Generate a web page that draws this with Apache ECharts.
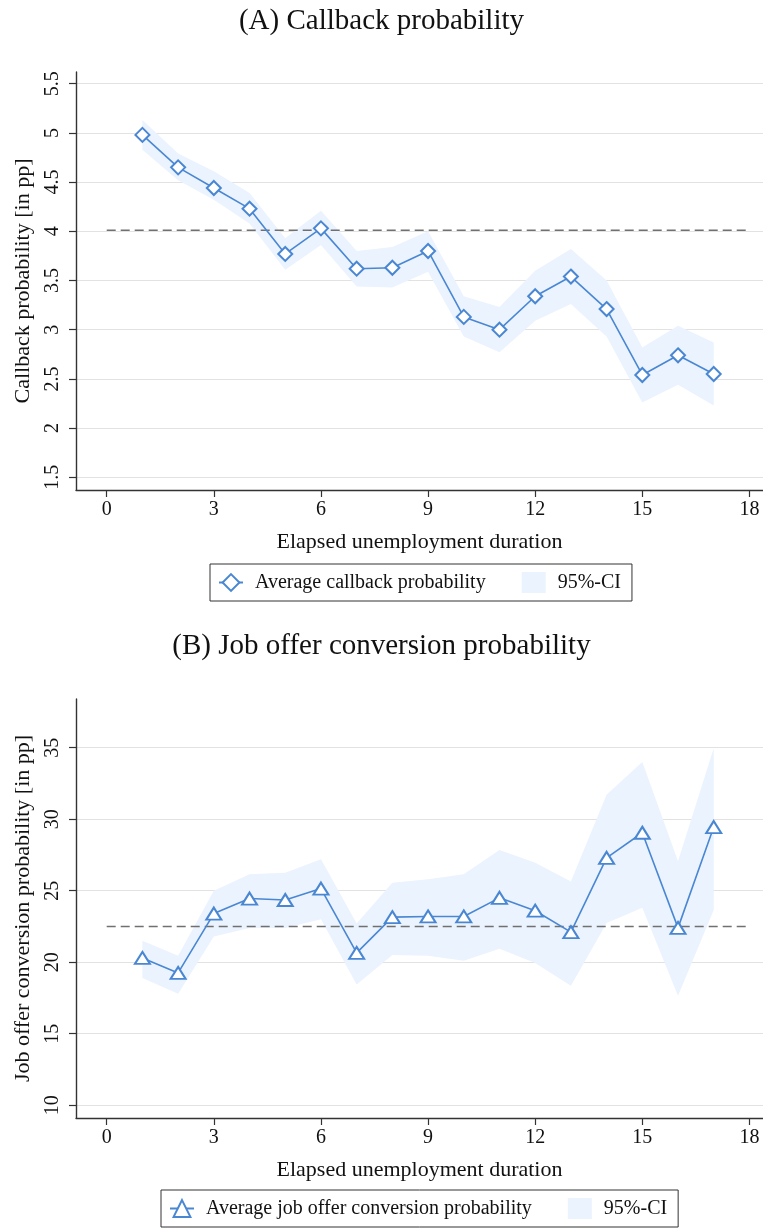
<!DOCTYPE html>
<html>
<head>
<meta charset="utf-8">
<script src="https://cdn.jsdelivr.net/npm/echarts@6/dist/echarts.min.js"></script>
<style>
  html, body { margin: 0; padding: 0; background: #ffffff; }
  #chart { width: 763px; height: 1230px; }
</style>
</head>
<body>
<div id="chart"></div>
<script>
// Months of elapsed unemployment
const months = [1, 2, 3, 4, 5, 6, 7, 8, 9, 10, 11, 12, 13, 14, 15, 16, 17];

// Panel A: callback probability (pp) with 95% confidence bounds
const callbackMean = [4.98, 4.65, 4.44, 4.23, 3.77, 4.03, 3.62, 3.63, 3.80, 3.13, 3.00, 3.34, 3.54, 3.21, 2.54, 2.74, 2.55];
const callbackLow  = [4.83, 4.52, 4.32, 4.08, 3.61, 3.86, 3.44, 3.43, 3.59, 2.93, 2.77, 3.09, 3.26, 2.93, 2.26, 2.44, 2.23];
const callbackHigh = [5.13, 4.79, 4.61, 4.39, 3.93, 4.21, 3.80, 3.84, 4.00, 3.34, 3.23, 3.60, 3.82, 3.50, 2.82, 3.04, 2.87];
const callbackOverall = 4.01;

// Panel B: job offer conversion probability (pp) with 95% confidence bounds
const offerMean = [20.3, 19.25, 23.4, 24.45, 24.35, 25.15, 20.65, 23.15, 23.2, 23.2, 24.5, 23.6, 22.1, 27.3, 29.05, 22.4, 29.45];
const offerLow  = [18.9, 17.8, 21.8, 22.4, 22.4, 23.0, 18.45, 20.5, 20.45, 20.1, 20.95, 19.95, 18.35, 22.75, 23.8, 17.65, 23.65];
const offerHigh = [21.5, 20.45, 25.0, 26.15, 26.25, 27.2, 22.7, 25.55, 25.8, 26.15, 27.85, 26.95, 25.65, 31.7, 34.0, 27.05, 34.95];
const offerOverall = 22.5;

// Tick positions
const xTicks = [0, 3, 6, 9, 12, 15, 18];
const yTicksA = [1.5, 2, 2.5, 3, 3.5, 4, 4.5, 5, 5.5];
const yTicksB = [10, 15, 20, 25, 30, 35];

// Text
const titleA = '(A) Callback probability';
const titleB = '(B) Job offer conversion probability';
const xName = 'Elapsed unemployment duration';
const yNameA = 'Callback probability [in pp]';
const yNameB = 'Job offer conversion probability [in pp]';
const seriesNameA = 'Average callback probability';
const seriesNameB = 'Average job offer conversion probability';
const ciName = '95%-CI';

// Styling
const blue = '#4a87d3';
const bandFill = '#ebf3fe';
const ink = '#333333';
const textInk = '#111111';
const gridInk = '#e2e2e2';
const serif = '"Liberation Serif", "Times New Roman", serif';

const pairs = (xs, ys) => xs.map((x, i) => [x, ys[i]]);

function makeXAxis(gridIndex) {
  return {
    type: 'value', gridIndex: gridIndex, min: -0.86, max: 18.38,
    axisLine: { show: true, onZero: false, lineStyle: { color: ink, width: 1.4 } },
    axisTick: { show: true, length: 7, customValues: xTicks, lineStyle: { color: ink, width: 1.2 } },
    axisLabel: { customValues: xTicks, margin: 10, fontFamily: serif, fontSize: 20, color: textInk },
    splitLine: { show: false },
    name: xName, nameLocation: 'middle', nameGap: 41,
    nameTextStyle: { fontFamily: serif, fontSize: 22, color: textInk }
  };
}

function makeYAxis(gridIndex, min, max, ticks, name) {
  return {
    type: 'value', gridIndex: gridIndex, min: min, max: max,
    axisLine: { show: true, onZero: false, lineStyle: { color: ink, width: 1.4 } },
    axisTick: { show: true, length: 7, customValues: ticks, lineStyle: { color: ink, width: 1.2 } },
    axisLabel: { customValues: ticks, rotate: 90, margin: 13, fontFamily: serif, fontSize: 20, color: textInk },
    splitLine: { show: true, lineStyle: { color: gridInk, width: 1.2 } },
    name: name, nameLocation: 'middle', nameGap: 42,
    nameTextStyle: { fontFamily: serif, fontSize: 22, color: textInk }
  };
}

// Confidence band drawn as one polygon through the axis scales
function bandSeries(idx, lo, hi) {
  return {
    type: 'custom', name: ciName, xAxisIndex: idx, yAxisIndex: idx,
    data: months.map((m, i) => [m, lo[i], hi[i]]),
    encode: { x: 0, y: [1, 2] },
    silent: true, z: 1,
    itemStyle: { color: bandFill },
    renderItem: function (params, api) {
      if (params.dataIndex !== 0) return null;
      const upper = months.map((m, i) => api.coord([m, hi[i]]));
      const lower = months.map((m, i) => api.coord([m, lo[i]])).reverse();
      return {
        type: 'polygon',
        shape: { points: upper.concat(lower) },
        style: { fill: bandFill, stroke: null },
        silent: true
      };
    }
  };
}

function panelSeries(idx, lo, hi, mean, overall, seriesName, symbol, symbolSize) {
  return [
    bandSeries(idx, lo, hi),
    { // overall average
      type: 'line', xAxisIndex: idx, yAxisIndex: idx,
      data: [[xTicks[0], overall], [xTicks[xTicks.length - 1], overall]],
      symbol: 'none', silent: true,
      lineStyle: { color: '#707070', width: 1.4, type: [9, 5] }, z: 2
    },
    { // monthly averages
      type: 'line', name: seriesName, xAxisIndex: idx, yAxisIndex: idx,
      data: pairs(months, mean), symbol: symbol, symbolSize: symbolSize,
      lineStyle: { color: blue, width: 1.6 },
      itemStyle: { color: blue, borderWidth: 2 }, z: 3
    }
  ];
}

function makeLegend(left, top, seriesName) {
  return {
    left: left, top: top, orient: 'horizontal', selectedMode: false,
    padding: [8, 11, 8, 8], itemGap: 36, itemWidth: 24, itemHeight: 21,
    borderColor: ink, borderWidth: 1, backgroundColor: '#ffffff',
    textStyle: { fontFamily: serif, fontSize: 20, color: textInk, padding: [0, 0, 0, 7] },
    data: [
      { name: seriesName },
      { name: ciName, icon: 'rect', itemStyle: { color: bandFill, borderWidth: 0 } }
    ]
  };
}

const chart = echarts.init(document.getElementById('chart'), null, { renderer: 'canvas' });
chart.setOption({
  animation: false,
  backgroundColor: '#ffffff',
  title: [
    { text: titleA, left: 'center', top: 7, padding: 0,
      textStyle: { fontFamily: serif, fontSize: 29, fontWeight: 'normal', color: textInk } },
    { text: titleB, left: 'center', top: 632, padding: 0,
      textStyle: { fontFamily: serif, fontSize: 29, fontWeight: 'normal', color: textInk } }
  ],
  legend: [
    makeLegend(210, 564, seriesNameA),
    makeLegend(161, 1190, seriesNameB)
  ],
  grid: [
    { left: 76, right: 0, top: 72, height: 418 },
    { left: 76, right: 0, top: 699, height: 419 }
  ],
  xAxis: [makeXAxis(0), makeXAxis(1)],
  yAxis: [
    makeYAxis(0, 1.371, 5.619, yTicksA, yNameA),
    makeYAxis(1, 9.11, 38.4, yTicksB, yNameB)
  ],
  series: [].concat(
    panelSeries(0, callbackLow, callbackHigh, callbackMean, callbackOverall, seriesNameA, 'emptyDiamond', 14),
    panelSeries(1, offerLow, offerHigh, offerMean, offerOverall, seriesNameB, 'emptyTriangle', [15, 12])
  )
});
</script>
</body>
</html>
